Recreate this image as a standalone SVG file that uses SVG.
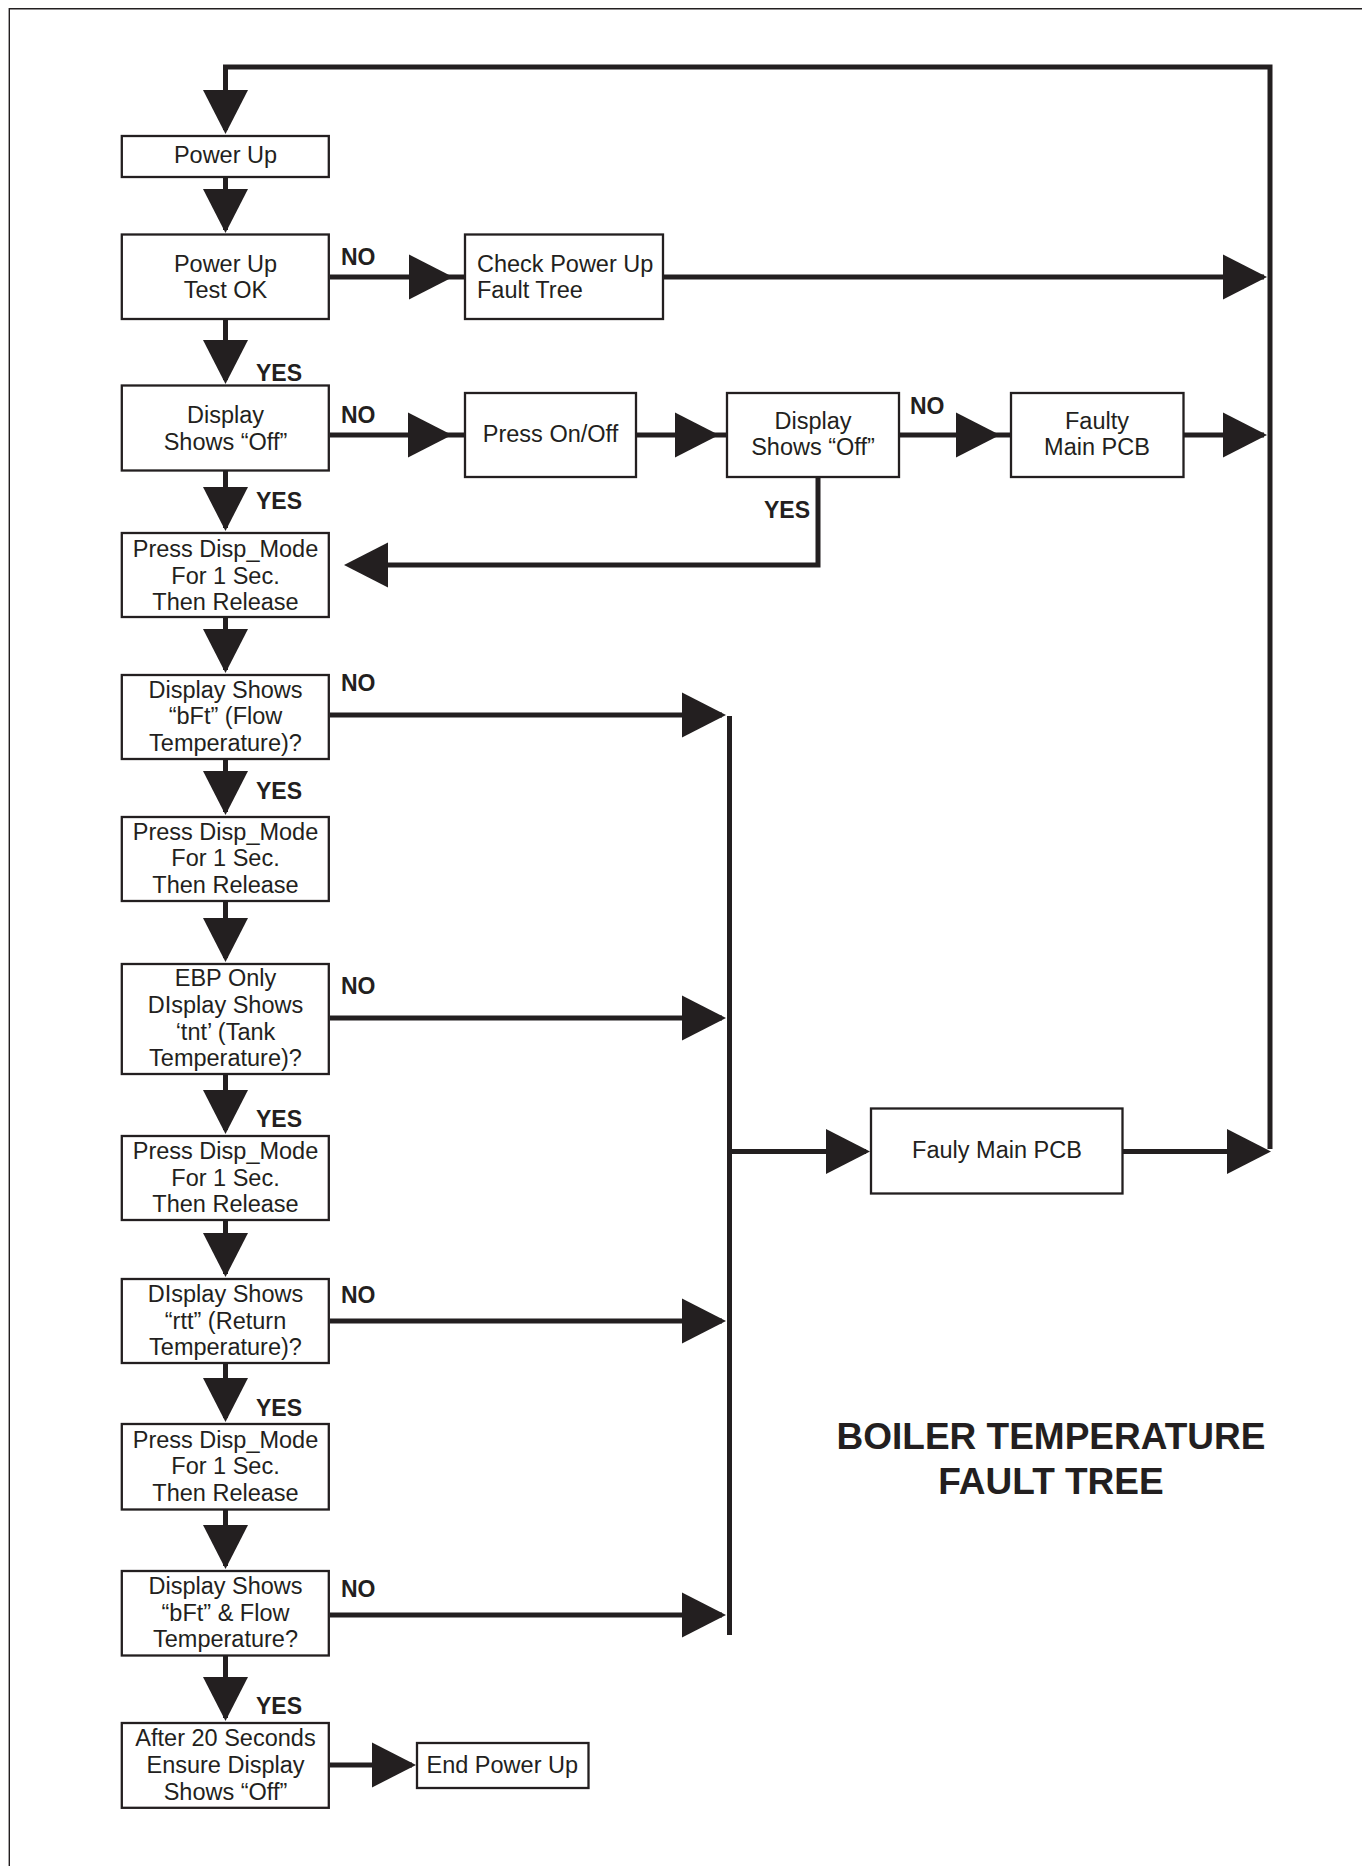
<svg xmlns="http://www.w3.org/2000/svg" xmlns:xlink="http://www.w3.org/1999/xlink" width="1362" height="1866" viewBox="0 0 1362 1866">
<style>
.box{fill:#fff;stroke:#231f20;stroke-width:2.3}
.t{font-family:"Liberation Sans",Arial,Helvetica,sans-serif;font-size:23.5px;fill:#231f20;text-anchor:middle}
.tl{text-anchor:start}
.lb{font-family:"Liberation Sans",Arial,Helvetica,sans-serif;font-size:23px;font-weight:bold;fill:#231f20}
.ttl{font-family:"Liberation Sans",Arial,Helvetica,sans-serif;font-size:37px;font-weight:bold;fill:#231f20;text-anchor:middle}
.ln{fill:none;stroke:#231f20;stroke-width:5}
.ah{fill:#231f20}
</style>
<defs>
<path id="ad" class="ah" d="M-22.5,-44 L22.5,-44 L0,0 Z"/>
<path id="ar" class="ah" d="M-44,-22.5 L-44,22.5 L0,0 Z"/>
<path id="al" class="ah" d="M44,-22.5 L44,22.5 L0,0 Z"/>
</defs>
<rect width="1362" height="1866" fill="#fff"/>
<path d="M1362,8.7 H9.3 V1866" fill="none" stroke="#231f20" stroke-width="1.4"/>

<g id="connectors">
<path class="ln" d="M1270,1149 V67 H225.5 V130"/>
<use xlink:href="#ad" x="225.5" y="134"/>
<path class="ln" d="M225.5,178 V230"/><use xlink:href="#ad" x="225.5" y="233"/>
<path class="ln" d="M225.5,320 V380"/><use xlink:href="#ad" x="225.5" y="384"/>
<path class="ln" d="M225.5,471 V528"/><use xlink:href="#ad" x="225.5" y="531"/>
<path class="ln" d="M225.5,618 V670"/><use xlink:href="#ad" x="225.5" y="673"/>
<path class="ln" d="M225.5,760 V812"/><use xlink:href="#ad" x="225.5" y="815"/>
<path class="ln" d="M225.5,902 V958"/><use xlink:href="#ad" x="225.5" y="962"/>
<path class="ln" d="M225.5,1075 V1130"/><use xlink:href="#ad" x="225.5" y="1134"/>
<path class="ln" d="M225.5,1221 V1274"/><use xlink:href="#ad" x="225.5" y="1277"/>
<path class="ln" d="M225.5,1364 V1418"/><use xlink:href="#ad" x="225.5" y="1422"/>
<path class="ln" d="M225.5,1510 V1566"/><use xlink:href="#ad" x="225.5" y="1569"/>
<path class="ln" d="M225.5,1656 V1718"/><use xlink:href="#ad" x="225.5" y="1721"/>

<path class="ln" d="M330,277 H464"/><use xlink:href="#ar" x="453" y="277"/>
<path class="ln" d="M664,277 H1264"/><use xlink:href="#ar" x="1267" y="277"/>
<path class="ln" d="M330,435 H464"/><use xlink:href="#ar" x="452" y="435"/>
<path class="ln" d="M637,435 H726"/><use xlink:href="#ar" x="719" y="435"/>
<path class="ln" d="M900,435 H1010"/><use xlink:href="#ar" x="1000" y="435"/>
<path class="ln" d="M1184,435 H1264"/><use xlink:href="#ar" x="1267" y="435"/>
<path class="ln" d="M818,478 V565 H350"/><use xlink:href="#al" x="344" y="565"/>

<path class="ln" d="M330,715 H722"/><use xlink:href="#ar" x="726" y="715"/>
<path class="ln" d="M330,1018 H722"/><use xlink:href="#ar" x="726" y="1018"/>
<path class="ln" d="M330,1321 H722"/><use xlink:href="#ar" x="726" y="1321"/>
<path class="ln" d="M330,1615 H722"/><use xlink:href="#ar" x="726" y="1615"/>
<path class="ln" d="M729.5,716 V1635"/>
<path class="ln" d="M732,1151.5 H866"/><use xlink:href="#ar" x="870" y="1151.5"/>
<path class="ln" d="M1123,1151.5 H1266"/><use xlink:href="#ar" x="1271" y="1151.5"/>
<path class="ln" d="M330,1765 H412"/><use xlink:href="#ar" x="416" y="1765"/>
</g>

<g id="labels">
<text class="lb" x="341" y="264.5">NO</text>
<text class="lb" x="256" y="381">YES</text>
<text class="lb" x="341" y="423">NO</text>
<text class="lb" x="256" y="509">YES</text>
<text class="lb" x="910" y="414">NO</text>
<text class="lb" x="810" y="518" text-anchor="end">YES</text>
<text class="lb" x="341" y="691">NO</text>
<text class="lb" x="256" y="799">YES</text>
<text class="lb" x="341" y="993.5">NO</text>
<text class="lb" x="256" y="1127">YES</text>
<text class="lb" x="341" y="1303">NO</text>
<text class="lb" x="256" y="1416">YES</text>
<text class="lb" x="341" y="1597">NO</text>
<text class="lb" x="256" y="1714">YES</text>
</g>

<g id="n1"><rect class="box" x="121.8" y="136" width="207" height="41"/><text class="t" x="225.5" y="163">Power Up</text></g>
<g id="n2"><rect class="box" x="121.8" y="234.5" width="207" height="84.5"/><text class="t" x="225.5" y="271.7">Power Up</text><text class="t" x="225.5" y="298.3">Test OK</text></g>
<g id="n3"><rect class="box" x="465" y="234.5" width="198" height="84.5"/><text class="t tl" x="477" y="271.5">Check Power Up</text><text class="t tl" x="477" y="298">Fault Tree</text></g>
<g id="n4"><rect class="box" x="121.8" y="385.5" width="207" height="85"/><text class="t" x="225.5" y="423">Display</text><text class="t" x="225.5" y="449.5">Shows “Off”</text></g>
<g id="n5"><rect class="box" x="465" y="393" width="171" height="84"/><text class="t" x="550.5" y="442">Press On/Off</text></g>
<g id="n6"><rect class="box" x="727" y="393" width="172" height="84"/><text class="t" x="813" y="428.5">Display</text><text class="t" x="813" y="455">Shows “Off”</text></g>
<g id="n7"><rect class="box" x="1011" y="393" width="172.5" height="84"/><text class="t" x="1097" y="428.5">Faulty</text><text class="t" x="1097" y="455">Main PCB</text></g>
<g id="n8"><rect class="box" x="121.8" y="533" width="207" height="84"/><text class="t" x="225.5" y="556.8">Press Disp_Mode</text><text class="t" x="225.5" y="583.5">For 1 Sec.</text><text class="t" x="225.5" y="610.2">Then Release</text></g>
<g id="n9"><rect class="box" x="121.8" y="675" width="207" height="84"/><text class="t" x="225.5" y="697.5">Display Shows</text><text class="t" x="225.5" y="724.2">“bFt” (Flow</text><text class="t" x="225.5" y="750.9">Temperature)?</text></g>
<g id="n10"><rect class="box" x="121.8" y="817" width="207" height="84"/><text class="t" x="225.5" y="839.7">Press Disp_Mode</text><text class="t" x="225.5" y="866.4">For 1 Sec.</text><text class="t" x="225.5" y="893.1">Then Release</text></g>
<g id="n11"><rect class="box" x="121.8" y="964" width="207" height="110"/><text class="t" x="225.5" y="986.3">EBP Only</text><text class="t" x="225.5" y="1013">DIsplay Shows</text><text class="t" x="225.5" y="1039.7">‘tnt’ (Tank</text><text class="t" x="225.5" y="1066.4">Temperature)?</text></g>
<g id="n12"><rect class="box" x="121.8" y="1136" width="207" height="84"/><text class="t" x="225.5" y="1158.8">Press Disp_Mode</text><text class="t" x="225.5" y="1185.5">For 1 Sec.</text><text class="t" x="225.5" y="1212.2">Then Release</text></g>
<g id="n13"><rect class="box" x="121.8" y="1279" width="207" height="84"/><text class="t" x="225.5" y="1301.8">DIsplay Shows</text><text class="t" x="225.5" y="1328.5">“rtt” (Return</text><text class="t" x="225.5" y="1355.2">Temperature)?</text></g>
<g id="n14"><rect class="box" x="121.8" y="1424" width="207" height="85.5"/><text class="t" x="225.5" y="1447.6">Press Disp_Mode</text><text class="t" x="225.5" y="1474.3">For 1 Sec.</text><text class="t" x="225.5" y="1501">Then Release</text></g>
<g id="n15"><rect class="box" x="121.8" y="1571" width="207" height="84.5"/><text class="t" x="225.5" y="1594">Display Shows</text><text class="t" x="225.5" y="1620.7">“bFt” &amp; Flow</text><text class="t" x="225.5" y="1647.4">Temperature?</text></g>
<g id="n16"><rect class="box" x="121.8" y="1723" width="207" height="84.8"/><text class="t" x="225.5" y="1746.2">After 20 Seconds</text><text class="t" x="225.5" y="1772.9">Ensure Display</text><text class="t" x="225.5" y="1799.6">Shows “Off”</text></g>
<g id="n17"><rect class="box" x="417" y="1743" width="171.5" height="45"/><text class="t tl" x="426.5" y="1773">End Power Up</text></g>
<g id="n18"><rect class="box" x="871" y="1108.5" width="251.5" height="85"/><text class="t" x="997" y="1158">Fauly Main PCB</text></g>

<g id="title">
<text class="ttl" x="1051" y="1449">BOILER TEMPERATURE</text>
<text class="ttl" x="1051" y="1493.7">FAULT TREE</text>
</g>
</svg>
